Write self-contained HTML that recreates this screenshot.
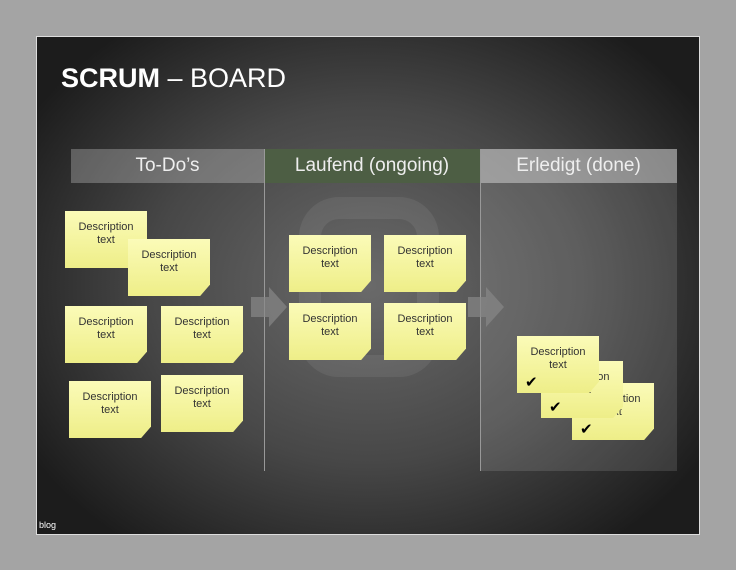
<!DOCTYPE html><html><head><style>
body{margin:0;width:736px;height:570px;background:#a4a4a4;position:relative;overflow:hidden;font-family:"Liberation Sans",sans-serif}
.slide{position:absolute;left:36px;top:36px;width:662px;height:497px;border:1px solid #ddd;background:radial-gradient(ellipse 60% 65% at 50% 50%,#6a6a6a 0%,#474747 55%,#1c1c1c 100%)}
.t{position:absolute;left:24px;top:26px;color:#fff;font-size:27px}
.h{position:absolute;top:112px;height:34px;color:#eee;font-size:19px;text-align:center;line-height:34px}
.v{position:absolute;top:112px;width:1px;height:322px;background:#999}
.n{position:absolute;width:82px;height:57px;background:linear-gradient(#fbfbb8,#eeee88);box-shadow:2px 2px 3px rgba(0,0,0,.6);font-size:11px;color:#333;text-align:center;line-height:13px;box-sizing:border-box;padding-top:10px;clip-path:polygon(0 0,100% 0,100% 80%,88% 100%,0 100%)}
.c{position:absolute;left:8px;bottom:4px;font-size:15px;color:#000}
</style></head><body><div class="slide">
<div class="t"><b>SCRUM</b> – BOARD</div>
<div style="position:absolute;left:443px;top:146px;width:197px;height:288px;background:rgba(255,255,255,.12)"></div>
<div style="position:absolute;left:262px;top:160px;width:140px;height:180px;border:22px solid rgba(255,255,255,.07);border-radius:40px;box-sizing:border-box"></div>
<div class="h" style="left:34px;width:193px;background:rgba(255,255,255,.25)">To-Do’s</div>
<div class="h" style="left:227px;width:216px;background:#4d5e44">Laufend (ongoing)</div>
<div class="h" style="left:443px;width:197px;background:rgba(255,255,255,.45)">Erledigt (done)</div>
<div class="v" style="left:227px"></div><div class="v" style="left:443px"></div>
<svg style="position:absolute;left:0;top:0" width="662" height="497"><g fill="#888" opacity=".7"><polygon points="214,260 232,260 232,250 250,270 232,290 232,280 214,280"/><polygon points="431,260 449,260 449,250 467,270 449,290 449,280 431,280"/></g></svg>
<div class="n" style="left:28px;top:174px">Description<br>text</div>
<div class="n" style="left:91px;top:202px">Description<br>text</div>
<div class="n" style="left:28px;top:269px">Description<br>text</div>
<div class="n" style="left:124px;top:269px">Description<br>text</div>
<div class="n" style="left:32px;top:344px">Description<br>text</div>
<div class="n" style="left:124px;top:338px">Description<br>text</div>
<div class="n" style="left:252px;top:198px">Description<br>text</div>
<div class="n" style="left:347px;top:198px">Description<br>text</div>
<div class="n" style="left:252px;top:266px">Description<br>text</div>
<div class="n" style="left:347px;top:266px">Description<br>text</div>
<div class="n" style="left:535px;top:346px">Description<br>text<span class="c">✔</span></div>
<div class="n" style="left:504px;top:324px">Description<br>text<span class="c">✔</span></div>
<div class="n" style="left:480px;top:299px">Description<br>text<span class="c">✔</span></div>
<div style="position:absolute;left:2px;top:483px;color:#fff;font-size:9px">blog</div>
</div></body></html>
